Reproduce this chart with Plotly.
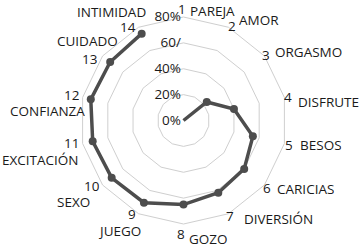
import plotly.graph_objects as go

numbers = ["1", "2", "3", "4", "5", "6", "7", "8", "9", "10", "11", "12", "13", "14"]
words = ["PAREJA", "AMOR", "ORGASMO", "DISFRUTE", "BESOS", "CARICIAS", "DIVERSIÓN",
         "GOZO", "JUEGO", "SEXO", "EXCITACIÓN", "CONFIANZA", "CUIDADO", "INTIMIDAD"]
categories = [n + " " + w for n, w in zip(numbers, words)]
values = [0, 0, 23, 40, 55, 60, 62, 65, 70.5, 71, 72, 73.5, 72.5, 74.5]
radial_ticks = [0, 20, 40, 60, 80]
radial_labels = ["0%", "20%", "40%", "60/", "80%"]

# label placement (pixels from top-left): number (x, y, anchor), word (x, y, anchor)
num_pos = [(181.5, 8.5, "center"), (232, 25.5, "center"), (266, 54, "center"), (288, 97, "center"),
           (288.5, 144, "center"), (266.5, 187, "center"), (230, 215, "center"),
           (180.5, 233, "center"), (131.5, 213.5, "center"), (101, 185, "right"),
           (80, 142, "right"), (80, 94, "right"), (98, 58, "right"), (137, 26.5, "right")]
word_pos = [(189, 10, "left"), (238, 19.5, "left"), (274, 51, "left"), (297, 101, "left"),
            (299, 144, "left"), (276, 188, "left"), (243, 218, "left"), (188, 238, "left"),
            (142, 230.5, "right"), (91, 201, "right"), (80, 159, "right"), (86, 110.5, "right"),
            (119, 41, "right"), (147, 11.5, "right")]

W, H = 362, 250
ML, MR, MT, MB = 80, 75, 17, 26
PW, PH = W - ML - MR, H - MT - MB


def px2paper(x, y):
    return (x - ML) / PW, 1 - (y - MT) / PH


fig = go.Figure()
fig.add_trace(go.Scatterpolar(
    r=values, theta=categories, mode="lines+markers",
    line=dict(color="#4d4d4d", width=3.5),
    marker=dict(color="#4d4d4d", size=8),
    cliponaxis=False, showlegend=False,
))

annotations = []
for txt, (x, y, anc) in list(zip(numbers, num_pos)) + list(zip(words, word_pos)):
    xp, yp = px2paper(x, y)
    annotations.append(dict(text=txt, x=xp, y=yp, xref="paper", yref="paper",
                            xanchor=anc, yanchor="middle", showarrow=False, borderpad=0,
                            height=17, valign="middle",
                            font=dict(size=13.5, color="#1a1a1a")))

fig.update_layout(
    width=W, height=H,
    margin=dict(l=ML, r=MR, t=MT, b=MB),
    paper_bgcolor="white",
    font=dict(family="Open Sans, DejaVu Sans", size=13.5, color="#1a1a1a"),
    annotations=annotations,
    polar=dict(
        bgcolor="white",
        gridshape="linear",
        domain=dict(x=[0, 1], y=[0, 1]),
        angularaxis=dict(
            rotation=90, direction="clockwise",
            showgrid=False, showline=True, linecolor="#cfcfcf", linewidth=1,
            ticks="", showticklabels=False,
        ),
        radialaxis=dict(
            range=[0, 80], tickvals=radial_ticks, ticktext=radial_labels,
            angle=90, tickangle=90, side="counterclockwise",
            showline=False, ticks="", gridcolor="#cfcfcf", gridwidth=1,
            tickfont=dict(size=13.5, color="#1a1a1a"),
        ),
    ),
)

fig.write_html("out.html", config={"displayModeBar": False},
               post_script="document.body.style.margin='0';document.body.style.overflow='hidden';")
